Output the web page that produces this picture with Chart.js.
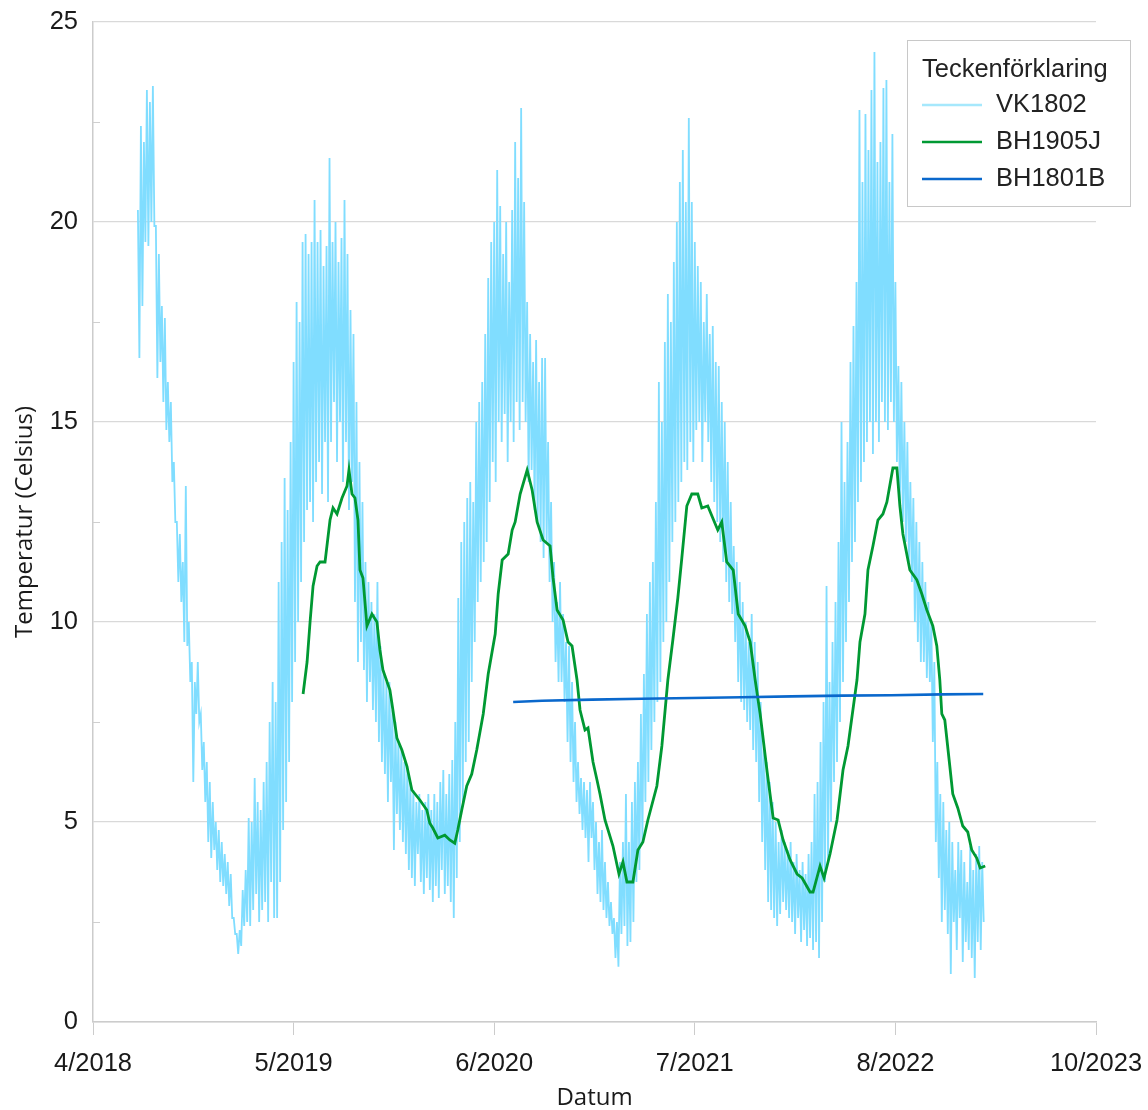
<!DOCTYPE html>
<html>
<head>
<meta charset="utf-8">
<script src="https://cdn.jsdelivr.net/npm/chart.js@4/dist/chart.umd.min.js"></script>
<style>
  body { margin: 0; background: #ffffff; }
</style>
</head>
<body>
<canvas id="tempChart" width="1148" height="1110"></canvas>
<script>
// x values are days after 1 April 2018
var xTickDays = [0, 402, 804, 1206, 1608, 2010];
var xTickLabels = ['4/2018', '5/2019', '6/2020', '7/2021', '8/2022', '10/2023'];
var yMinorTicks = [2.5, 7.5, 12.5, 17.5, 22.5];

// VK1802 - logger readings, one every 3 days from day 90
var vkStartDay = 90;
var vkStepDays = 3;
var vk1802 = [
    20.3,16.6, 22.4,17.9, 22.0,19.5, 23.3,19.4, 23.0,20.0, 23.4,19.9, 19.9,16.1, 19.2,16.5,
    17.9,15.5, 17.6,14.8, 16.0,14.5, 15.5,13.5, 14.0,12.5, 12.5,11.0, 12.2,10.5, 11.5,9.5,
    13.4,9.4, 10.0,8.5, 9.0,6.0, 8.5,7.7, 9.0,7.5, 7.7,6.3, 7.0,5.5, 6.5,4.5,
    6.0,4.1, 5.5,4.3, 5.0,3.8, 4.8,3.5, 4.5,3.4, 4.2,3.2, 4.0,2.9, 3.7,2.6,
    2.6,2.2, 2.2,1.7, 2.3,1.9, 3.3,2.4, 3.8,2.5, 5.1,2.4, 5.0,2.8, 6.1,3.2,
    5.5,2.5, 5.3,2.8, 6.0,3.0, 6.5,2.5, 7.5,3.5, 8.5,2.6, 8.0,2.6, 11.0,3.5,
    12.0,4.8, 13.6,5.5, 12.8,6.5, 14.5,8.0, 16.5,9.0, 18.0,10.0, 17.5,11.0, 19.5,12.0,
    19.7,12.8, 19.2,13.0, 19.5,12.5, 20.55,13.5, 19.5,14.0, 19.8,13.2, 18.9,14.5, 19.4,13.0,
    21.6,14.5, 19.5,15.5, 20.0,14.0, 19.0,15.0, 19.6,13.5, 20.55,14.5, 19.2,12.8, 17.8,13.5,
    17.2,10.5, 15.5,9.0, 14.0,9.5, 13.0,8.8, 11.5,8.0, 11.0,8.5, 10.5,7.8, 10.2,7.5,
    11.0,7.0, 9.4,6.5, 8.8,6.2, 8.5,5.5, 8.5,6.0, 7.8,4.3, 7.5,5.2, 7.0,4.8,
    6.8,4.5, 6.5,4.2, 6.4,3.8, 6.0,3.6, 5.8,3.4, 5.5,4.2, 5.7,3.5, 5.3,3.2,
    5.5,3.6, 5.7,3.3, 5.3,3.0, 5.7,3.4, 5.5,3.1, 6.0,3.8, 6.3,3.2, 5.7,3.4,
    6.2,3.0, 6.55,2.6, 7.5,3.6, 10.6,4.5, 12.0,5.5, 12.5,6.5, 13.1,7.0, 13.5,8.5,
    13.0,9.5, 15.0,10.5, 15.5,11.0, 16.0,11.5, 17.2,12.0, 18.6,13.0, 19.5,14.0, 20.0,13.5,
    21.3,15.0, 20.4,14.5, 19.2,15.2, 20.0,14.0, 18.5,15.0, 20.3,14.5, 22.0,15.5, 21.1,14.8,
    22.85,15.5, 20.5,15.0, 18.0,13.5, 17.2,13.8, 16.5,12.8, 17.05,12.5, 16.0,12.0, 16.6,11.6,
    16.6,12.0, 14.5,11.0, 13.0,10.0, 11.5,9.0, 10.5,8.5, 11.0,8.5, 10.2,8.0, 9.5,7.0,
    9.4,6.5, 8.5,6.0, 7.5,5.5, 6.5,5.2, 6.1,4.8, 6.0,4.6, 5.8,4.0, 6.0,4.6,
    5.5,3.8, 5.0,3.2, 4.5,3.0, 4.8,2.8, 4.0,2.6, 3.5,2.4, 3.0,2.2, 2.6,1.6,
    2.5,1.38, 4.0,2.2, 4.5,2.4, 5.7,1.9, 4.5,2.0, 5.5,2.5, 6.0,3.5, 6.5,3.8,
    7.7,4.5, 8.7,5.5, 10.2,6.0, 11.0,6.8, 11.5,7.5, 13.0,8.0, 16.0,8.5, 15.0,9.5,
    17.0,10.0, 18.2,11.0, 17.5,12.0, 19.0,12.5, 20.0,13.0, 21.0,13.5, 21.8,14.0, 20.5,13.8,
    22.6,14.5, 20.5,14.0, 19.5,14.8, 18.9,15.0, 18.5,14.0, 17.5,15.0, 18.2,14.5, 17.2,13.5,
    17.4,13.0, 16.5,12.5, 16.4,12.0, 15.5,11.5, 15.0,11.0, 14.0,10.5, 13.0,10.2, 11.9,9.5,
    11.5,8.5, 11.0,8.0, 10.5,7.8, 10.0,7.5, 9.5,7.3, 10.2,6.8, 9.5,6.5, 9.0,5.5,
    8.0,4.5, 7.0,3.8, 6.5,3.0, 6.0,2.8, 5.5,2.6, 5.0,2.4, 4.5,2.7, 4.8,3.0,
    4.5,2.8, 4.3,2.6, 4.5,2.5, 4.0,2.2, 4.2,2.6, 3.8,2.0, 4.0,2.3, 3.7,1.9,
    4.2,2.1, 4.5,1.8, 5.7,2.0, 6.0,1.6, 7.0,2.5, 8.0,3.5, 10.9,4.0, 8.5,5.0,
    9.5,6.0, 10.5,6.5, 12.0,7.5, 15.0,8.5, 13.5,9.5, 14.5,10.5, 16.5,11.5, 17.4,12.0,
    18.5,13.0, 22.8,13.5, 21.0,14.0, 22.7,14.5, 21.8,15.0, 23.3,14.2, 24.25,15.0, 21.5,14.5,
    22.0,15.5, 23.35,15.0, 23.55,14.8, 21.0,15.5, 22.2,15.0, 18.5,14.0, 16.4,13.0, 16.0,12.5,
    15.0,12.0, 14.5,11.5, 13.5,11.0, 13.1,10.0, 12.5,9.5, 12.0,9.0, 11.5,9.0, 11.0,8.6,
    10.5,8.5, 10.0,7.0, 9.0,4.5, 6.5,3.6, 5.7,2.5, 5.5,2.8, 4.8,2.2, 5.0,1.2,
    4.5,2.5, 3.8,1.8, 4.5,2.6, 4.3,1.5, 4.0,2.0, 3.5,1.8, 4.4,1.6, 3.8,1.1,
    4.2,2.0, 4.4,1.8, 4.0,2.5
];

// BH1905J
var bh1905Days = [
    421, 429, 435, 441, 449, 455, 465, 475, 481, 489, 499, 509, 513, 519, 525, 531,
    535, 541, 549, 559, 569, 575, 581, 595, 601, 609, 619, 629, 639, 655, 669, 675,
    681, 691, 705, 715, 725, 731, 739, 749, 759, 769, 782, 792, 806, 812, 820, 832,
    840, 846, 856, 870, 880, 890, 902, 916, 922, 930, 942, 952, 960, 970, 976, 986,
    992, 1002, 1010, 1016, 1026, 1042, 1054, 1062, 1070, 1082, 1092, 1102, 1112, 1130, 1140, 1152,
    1162, 1172, 1180, 1190, 1200, 1212, 1220, 1232, 1242, 1252, 1260, 1270, 1283, 1293, 1307, 1317,
    1327, 1337, 1351, 1363, 1373, 1383, 1397, 1411, 1421, 1437, 1443, 1457, 1465, 1477, 1491, 1503,
    1513, 1531, 1537, 1547, 1553, 1563, 1573, 1583, 1591, 1603, 1611, 1617, 1623, 1637, 1651, 1661,
    1671, 1683, 1691, 1697, 1701, 1707, 1717, 1723, 1733, 1743, 1753, 1761, 1771, 1778, 1788
];
var bh1905Temps = [
    8.2, 9.0, 10.0, 10.9, 11.4, 11.5, 11.5, 12.55, 12.85, 12.7, 13.1, 13.4, 13.8, 13.2, 13.1, 12.55,
    11.3, 11.1, 9.9, 10.2, 10.0, 9.3, 8.8, 8.3, 7.8, 7.1, 6.8, 6.4, 5.8, 5.55, 5.3, 4.97,
    4.85, 4.6, 4.67, 4.55, 4.47, 4.8, 5.3, 5.9, 6.2, 6.8, 7.7, 8.7, 9.7, 10.7, 11.55, 11.7,
    12.3, 12.5, 13.2, 13.8, 13.3, 12.5, 12.05, 11.9, 11.1, 10.3, 10.05, 9.5, 9.4, 8.55, 7.8, 7.3,
    7.35, 6.5, 6.05, 5.7, 5.05, 4.4, 3.7, 4.0, 3.5, 3.5, 4.3, 4.5, 5.05, 5.9, 6.9, 8.55,
    9.55, 10.6, 11.6, 12.9, 13.2, 13.2, 12.85, 12.9, 12.6, 12.3, 12.5, 11.5, 11.3, 10.2, 9.9, 9.5,
    8.55, 7.7, 6.25, 5.1, 5.05, 4.55, 4.05, 3.7, 3.6, 3.25, 3.25, 3.9, 3.6, 4.2, 5.05, 6.3,
    6.9, 8.55, 9.5, 10.2, 11.3, 11.9, 12.55, 12.7, 13.0, 13.85, 13.85, 12.9, 12.2, 11.3, 11.05, 10.7,
    10.3, 9.9, 9.4, 8.55, 7.7, 7.55, 6.4, 5.7, 5.35, 4.9, 4.75, 4.3, 4.1, 3.85, 3.9
];

// BH1801B
var bh1801Days = [842, 900, 1000, 1100, 1200, 1300, 1400, 1500, 1600, 1700, 1784];
var bh1801Temps = [8.0, 8.03, 8.06, 8.08, 8.1, 8.12, 8.14, 8.16, 8.17, 8.19, 8.2];

function toPoints(days, temps) {
    return days.map(function (d, i) { return { x: d, y: temps[i] }; });
}

var vkPoints = vk1802.map(function (t, i) {
    return { x: vkStartDay + i * vkStepDays, y: t };
});

var tickFont = { family: 'Liberation Sans', size: 25.5 };
var titleFont = { family: 'Open Sans', size: 24, lineHeight: 1 };

// small ticks between the labelled y values, drawn inside the plot
var minorTickPlugin = {
    id: 'minorTicks',
    afterDraw: function (chart) {
        var ctx = chart.ctx;
        var yScale = chart.scales.y;
        var left = chart.chartArea.left;
        ctx.save();
        ctx.strokeStyle = '#cfcfcf';
        ctx.lineWidth = 1;
        yMinorTicks.forEach(function (v) {
            var py = Math.round(yScale.getPixelForValue(v)) + 0.5;
            ctx.beginPath();
            ctx.moveTo(left, py);
            ctx.lineTo(left + 7, py);
            ctx.stroke();
        });
        ctx.restore();
    }
};

// boxed legend with title, sitting in the upper right corner
var legendBoxPlugin = {
    id: 'legendBox',
    afterDraw: function (chart) {
        var ctx = chart.ctx;
        var bx = chart.width - 241, by = 40, bw = 223, bh = 166;
        ctx.save();
        ctx.fillStyle = '#ffffff';
        ctx.fillRect(bx, by, bw, bh);
        ctx.strokeStyle = '#c8c8c8';
        ctx.lineWidth = 1;
        ctx.strokeRect(bx + 0.5, by + 0.5, bw, bh);
        ctx.font = '25.5px "Liberation Sans"';
        ctx.fillStyle = '#222222';
        ctx.textBaseline = 'middle';
        ctx.textAlign = 'left';
        ctx.fillText('Teckenförklaring', bx + 15, by + 30);
        var sampleColors = ['#a6e8fc', '#009933', '#0a68cc'];
        chart.data.datasets.forEach(function (ds, i) {
            var iy = by + 65 + i * 37;
            ctx.strokeStyle = sampleColors[i];
            ctx.lineWidth = 2.5;
            ctx.beginPath();
            ctx.moveTo(bx + 15, iy);
            ctx.lineTo(bx + 75, iy);
            ctx.stroke();
            ctx.fillStyle = '#222222';
            ctx.fillText(ds.label, bx + 89, iy);
        });
        ctx.restore();
    }
};

var tempChart = new Chart(document.getElementById('tempChart'), {
    type: 'line',
    data: {
        datasets: [{
            label: 'VK1802',
            data: vkPoints,
            borderColor: '#80ddff',
            borderWidth: 1.8,
            pointRadius: 0,
            order: 3
        }, {
            label: 'BH1905J',
            data: toPoints(bh1905Days, bh1905Temps),
            borderColor: '#009933',
            borderWidth: 2.8,
            pointRadius: 0,
            order: 2
        }, {
            label: 'BH1801B',
            data: toPoints(bh1801Days, bh1801Temps),
            borderColor: '#0a68cc',
            borderWidth: 2.6,
            pointRadius: 0,
            order: 1
        }]
    },
    options: {
        responsive: false,
        animation: false,
        layout: {
            padding: { top: 22, right: 52, left: 0, bottom: 0 }
        },
        scales: {
            x: {
                type: 'linear',
                min: 0,
                max: 2010,
                afterBuildTicks: function (scale) {
                    scale.ticks = xTickDays.map(function (d) { return { value: d }; });
                },
                afterFit: function (scale) {
                    scale.height = 88;
                    scale.paddingLeft = 0;
                    scale.paddingRight = 0;
                },
                ticks: {
                    autoSkip: false,
                    maxRotation: 0,
                    padding: 14,
                    color: '#1a1a1a',
                    font: tickFont,
                    callback: function (value, index) {
                        return xTickLabels[index];
                    }
                },
                grid: {
                    drawOnChartArea: false,
                    drawTicks: true,
                    tickLength: 13,
                    color: '#cccccc'
                },
                border: { display: true, color: '#cccccc', width: 1.5 },
                title: {
                    display: true,
                    text: 'Datum',
                    color: '#1a1a1a',
                    font: titleFont,
                    padding: { top: 0, bottom: 0 }
                }
            },
            y: {
                min: 0,
                max: 25,
                afterFit: function (scale) {
                    scale.width = 93;
                    scale.paddingTop = 0;
                    scale.paddingBottom = 0;
                },
                ticks: {
                    stepSize: 5,
                    padding: 15,
                    color: '#1a1a1a',
                    font: tickFont
                },
                grid: {
                    drawTicks: false,
                    color: '#d9d9d9',
                    lineWidth: 1.2
                },
                border: { display: true, color: '#cccccc', width: 1.5 },
                title: {
                    display: true,
                    text: 'Temperatur (Celsius)',
                    color: '#1a1a1a',
                    font: titleFont,
                    padding: { top: 13, bottom: 0 }
                }
            }
        },
        plugins: {
            legend: { display: false },
            tooltip: { enabled: false }
        }
    },
    plugins: [minorTickPlugin, legendBoxPlugin]
});
</script>
</body>
</html>
